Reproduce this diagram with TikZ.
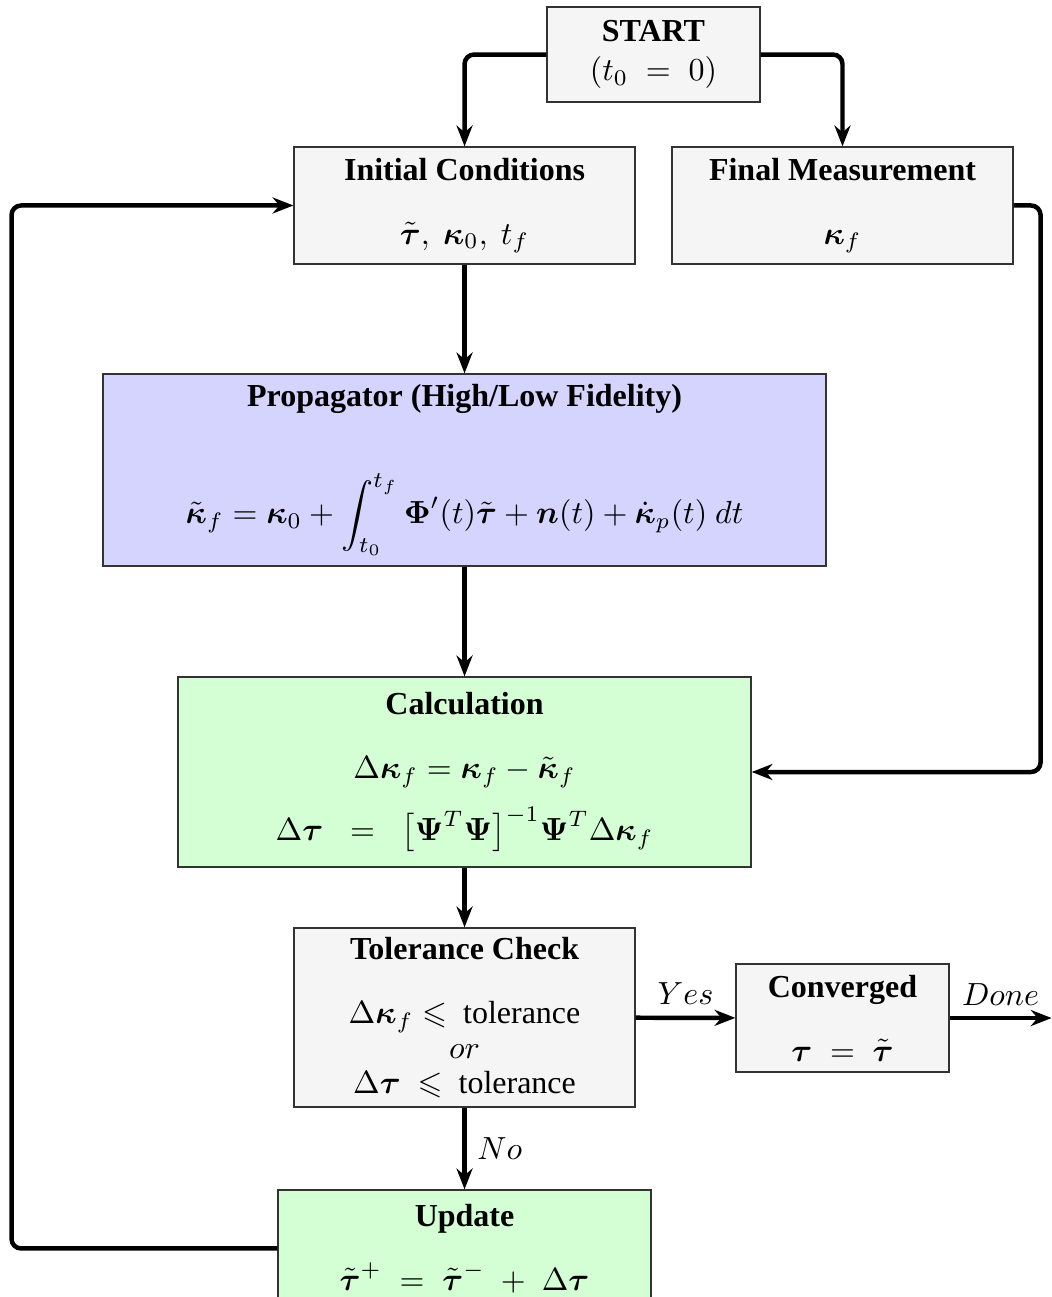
\documentclass[tikz,border=0pt]{standalone}
\usepackage{amsmath,amssymb}
\usepackage{fontspec}
\setmainfont{Liberation Serif}
\usepackage{tikz}
\usetikzlibrary{positioning, arrows.meta, calc}

\tikzset{
	box/.style={draw=black!80, fill=gray!8, align=center, inner sep=0pt},
	flow/.style={-{Stealth[length=6.5pt,width=5pt]}, line width=1.4pt, rounded corners=3pt},
}

\begin{document}
\begin{tikzpicture}
				\useasboundingbox (0,0) rectangle (11.554,-14.245);
				% boxes
				\node[box, minimum width=2.339cm, minimum height=1.043cm] (start) at (7.177,-0.599)
					{\textbf{START}\\$(t_0\;=\;0)$};
				\node[box, minimum width=3.745cm, minimum height=1.285cm] (init) at (5.102,-2.257)
					{\textbf{Initial Conditions}\\[8pt]$\tilde{\boldsymbol{\tau}},\ \boldsymbol{\kappa}_0,\ t_f$};
				\node[box, minimum width=3.745cm, minimum height=1.285cm] (final) at (9.253,-2.257)
					{\textbf{Final Measurement}\\[8pt]$\boldsymbol{\kappa}_f$};
				\node[box, fill=blue!17, minimum width=7.941cm, minimum height=2.109cm] (prop) at (5.102,-5.162)
					{\textbf{Propagator (High/Low Fidelity)}\\[18pt]$\displaystyle \tilde{\boldsymbol{\kappa}}_f = \boldsymbol{\kappa}_0 + \int_{t_0}^{t_f} \boldsymbol{\Phi}'(t)\tilde{\boldsymbol{\tau}} + \boldsymbol{n}(t) + \dot{\boldsymbol{\kappa}}_p(t)\ dt$};
				\node[box, fill=green!17, minimum width=6.293cm, minimum height=2.087cm] (calc) at (5.102,-8.479)
					{\textbf{Calculation}\\[8pt]$\Delta\boldsymbol{\kappa}_f = \boldsymbol{\kappa}_f - \tilde{\boldsymbol{\kappa}}_f$\\[5pt]$\Delta\boldsymbol{\tau}\;\;=\;\;\big[\boldsymbol{\Psi}^T\boldsymbol{\Psi}\big]^{-1}\boldsymbol{\Psi}^T\Delta\boldsymbol{\kappa}_f$};
				\node[box, minimum width=3.745cm, minimum height=1.966cm] (tol) at (5.102,-11.175)
					{\textbf{Tolerance Check}\\[8pt]$\Delta\boldsymbol{\kappa}_f \leqslant$\ \ tolerance\\[-1pt]$or$\\[-1pt]$\Delta\boldsymbol{\tau}\ \leqslant$\ \ tolerance};
				\node[box, minimum width=2.339cm, minimum height=1.186cm] (conv) at (9.253,-11.181)
					{\textbf{Converged}\\[8pt]$\boldsymbol{\tau}\;=\;\tilde{\boldsymbol{\tau}}$};
				\node[box, fill=green!17, minimum width=4.097cm, minimum height=1.285cm] (upd) at (5.102,-13.712)
					{\textbf{Update}\\[8pt]$\tilde{\boldsymbol{\tau}}^+\;=\;\tilde{\boldsymbol{\tau}}^-\;+\;\Delta\boldsymbol{\tau}$};
				\coordinate (done) at (11.55,-11.181);
				% connectors
				\draw[flow] (start.west) -| (init.north);
				\draw[flow] (start.east) -| (final.north);
				\draw[flow] (init) -- (prop);
				\draw[flow] (prop) -- (calc);
				\draw[flow] (final.east) -- ++(0.296,0) |- (calc.east);
				\draw[flow] (calc) -- (tol);
				\draw[flow] (tol) -- node[above] {$Yes$} (conv);
				\draw[flow] (conv) -- node[above] {$Done$} (done);
				\draw[flow] (tol) -- node[right] {$No$} (upd);
				\draw[flow] (upd.west) -- ++(-2.92,0) |- (init.west);
			\end{tikzpicture}
\end{document}
